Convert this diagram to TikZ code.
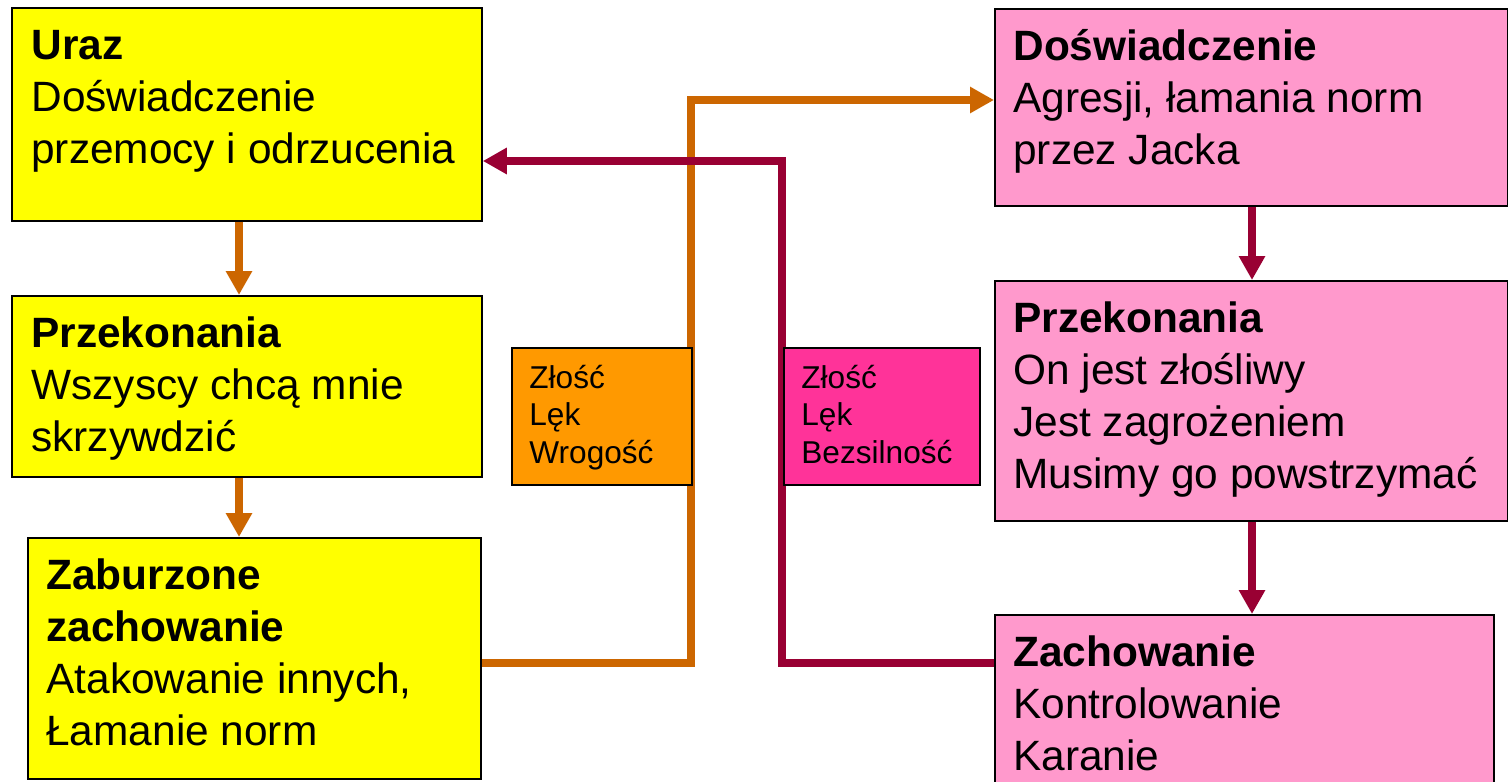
\documentclass[tikz,border=0pt]{standalone}
\usepackage{fontspec}
\setmainfont{Liberation Sans}
\usetikzlibrary{arrows.meta}

\definecolor{boxyellow}{HTML}{FFFF00}
\definecolor{boxpink}{HTML}{FF99CC}
\definecolor{feelorange}{HTML}{FF9900}
\definecolor{feelpink}{HTML}{FF3399}
\definecolor{lineorange}{HTML}{CC6600}
\definecolor{linered}{HTML}{990033}

\tikzset{
  ybox/.style={draw, line width=0.9pt, fill=boxyellow, anchor=north west, inner sep=0pt},
  pbox/.style={draw, line width=0.9pt, fill=boxpink, anchor=north west, inner sep=0pt},
  bigtext/.style={anchor=north west, align=left, inner sep=0pt, font=\fontsize{21.2pt}{26pt}\selectfont},
  smalltext/.style={anchor=north west, align=left, inner sep=0pt, font=\fontsize{15.8pt}{18.75pt}\selectfont},
  oline/.style={draw=lineorange, line width=3.75pt, -{Triangle[length=12pt,width=12.5pt]}},
  rline/.style={draw=linered, line width=3.75pt, -{Triangle[length=12pt,width=12.5pt]}}
}

\begin{document}
\begin{tikzpicture}[x=0.5pt, y=-0.5pt]
	\useasboundingbox (0,0) rectangle (1508,781);

	% left column
	\node[ybox, minimum width=235pt, minimum height=106.5pt] at (11,7) (uraz) {};
	\node[ybox, minimum width=235pt, minimum height=90.5pt] at (11,295) (przekL) {};
	\node[ybox, minimum width=226.5pt, minimum height=120.5pt] at (27,537) (zab) {};

	\node[bigtext] at ([shift={(20,15.6)}]uraz.north west) (uraz-t) {\strut\textbf{Uraz}\\Doświadczenie\\przemocy i odrzucenia};
	\node[bigtext] at ([shift={(20,15.6)}]przekL.north west) (przekL-t) {\strut\textbf{Przekonania}\\Wszyscy chcą mnie\\skrzywdzić};
	\node[bigtext] at ([shift={(19,15.6)}]zab.north west) (zab-t) {\strut\textbf{Zaburzone}\\\textbf{zachowanie}\\Atakowanie innych,\\Łamanie norm};

	% right column
	\node[pbox, minimum width=256.5pt, minimum height=98.5pt] at (994,8) (dosw) {};
	\node[pbox, minimum width=256.5pt, minimum height=120pt] at (994,280) (przekR) {};
	\node[pbox, minimum width=249.5pt, minimum height=90pt] at (994,614) (zach) {};

	\node[bigtext] at ([shift={(19,15.6)}]dosw.north west) (dosw-t) {\strut\textbf{Doświadczenie}\\Agresji, łamania norm\\przez Jacka};
	\node[bigtext] at ([shift={(19,15.6)}]przekR.north west) (przekR-t) {\strut\textbf{Przekonania}\\On jest złośliwy\\Jest zagrożeniem\\Musimy go powstrzymać};
	\node[bigtext] at ([shift={(19,15.6)}]zach.north west) (zach-t) {\strut\textbf{Zachowanie}\\Kontrolowanie\\Karanie};

	% arrows down
	\coordinate (lx) at (239,0);
	\coordinate (rx) at (1252,0);
	\draw[oline] (uraz.south -| lx) -- (przekL.north -| lx);
	\draw[oline] (przekL.south -| lx) -- (zab.north -| lx);
	\draw[rline] (dosw.south -| rx) -- (przekR.north -| rx);
	\draw[rline] (przekR.south -| rx) -- (zach.north -| rx);

	% cross connectors
	\coordinate (olow) at (691,663);
	\coordinate (oup) at (691,100);
	\coordinate (rlow) at (782,663);
	\coordinate (rup) at (782,161);
	\draw[oline] (zab.east |- olow) -- (olow) -- (oup) -- (dosw.west |- oup);
	\draw[rline] (zach.west |- rlow) -- (rlow) -- (rup) -- (uraz.east |- rup);

	% feelings
	\node[draw, line width=0.9pt, fill=feelorange, anchor=north west, minimum width=90pt, minimum height=68.5pt] at (511,347) (feelA) {};
	\node[draw, line width=0.9pt, fill=feelpink, anchor=north west, minimum width=98pt, minimum height=68.5pt] at (783,347) (feelB) {};
	\node[smalltext] at ([shift={(18,14.75)}]feelA.north west) (feelA-t) {\strut Złość\\Lęk\\Wrogość};
	\node[smalltext] at ([shift={(18,14.75)}]feelB.north west) (feelB-t) {\strut Złość\\Lęk\\Bezsilność};

\end{tikzpicture}
\end{document}
